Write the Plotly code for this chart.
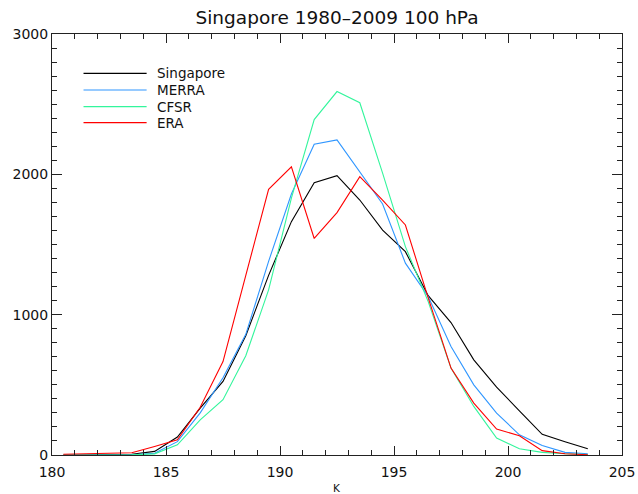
import plotly.graph_objects as go

# Data
temps = [180.5 + i for i in range(24)]
singapore = [0, 0, 2, 5, 26, 128, 334, 524, 850, 1280, 1663, 1940, 1990, 1817, 1603, 1449,
             1135, 944, 678, 484, 315, 147, 95, 45]
merra = [0, 0, 0, 2, 12, 95, 300, 550, 860, 1380, 1860, 2215, 2245, 2021, 1789, 1367,
         1129, 773, 500, 299, 144, 68, 19, 9]
cfsr = [0, 0, 0, 1, 8, 73, 251, 394, 707, 1177, 1830, 2390, 2590, 2510, 2009, 1485,
        1093, 619, 346, 121, 45, 19, 9, 3]
era = [5, 8, 10, 16, 61, 109, 340, 666, 1280, 1893, 2054, 1543, 1727, 1983, 1817, 1639,
       1120, 619, 370, 185, 137, 31, 9, 2]

series_names = ["Singapore", "MERRA", "CFSR", "ERA"]
series_values = [singapore, merra, cfsr, era]
series_colors = ["#000000", "#2f96ff", "#33f59c", "#ff0000"]

x_ticks = [180, 185, 190, 195, 200, 205]
y_ticks = [0, 1000, 2000, 3000]

FONT = "DejaVu Sans"
AX = "#222222"

W, H = 638, 494

fig = go.Figure()
for name, vals, col in zip(series_names, series_values, series_colors):
    fig.add_trace(go.Scatter(x=temps, y=vals, mode="lines", name=name,
                             line=dict(color=col, width=1.1), showlegend=False,
                             hoverinfo="skip"))

# Legend drawn manually (long line samples as in the reference)
ly = [0.9067, 0.867, 0.8275, 0.7893]
for name, col, yy in zip(series_names, series_colors, ly):
    fig.add_shape(type="line", xref="paper", yref="paper", x0=0.0553, x1=0.166,
                  y0=yy, y1=yy, line=dict(color=col, width=1.2))
    fig.add_annotation(xref="paper", yref="paper", x=0.181, y=yy, text=name,
                       showarrow=False, xanchor="left", yanchor="middle",
                       font=dict(family=FONT, size=13.5, color="#111111"))

fig.add_annotation(xref="paper", yref="paper", x=0.5, y=-0.078, text="K",
                   showarrow=False, xanchor="center", yanchor="middle",
                   font=dict(family=FONT, size=10.5, color="#111111"))

fig.update_layout(
    width=W, height=H, autosize=False,
    margin=dict(l=52, r=16, t=34, b=39, autoexpand=False),
    paper_bgcolor="white", plot_bgcolor="white",
    hovermode=False,
    title=dict(text="Singapore 1980\u20132009 100 hPa", x=0.5, xref="paper",
               y=1 - 18 / H, yref="container", xanchor="center", yanchor="middle",
               automargin=False,
               font=dict(family=FONT, size=18.5, color="#111111")),
    font=dict(family=FONT, size=14, color="#111111"),
)
fig.update_xaxes(range=[180, 205], tickvals=x_ticks, ticktext=[str(v) for v in x_ticks],
                 automargin=False,
                 showgrid=False, zeroline=False, showline=True, linecolor=AX, linewidth=1,
                 mirror="ticks", ticks="inside", ticklen=9, tickcolor=AX, tickwidth=1,
                 ticklabelstandoff=4,
                 minor=dict(ticks="inside", dtick=1, tick0=180, ticklen=5, tickcolor=AX, showgrid=False),
                 tickfont=dict(family=FONT, size=14))
fig.update_yaxes(range=[0, 3000], tickvals=y_ticks, ticktext=[str(v) for v in y_ticks],
                 automargin=False,
                 showgrid=False, zeroline=False, showline=True, linecolor=AX, linewidth=1,
                 mirror="ticks", ticks="inside", ticklen=10, tickcolor=AX, tickwidth=1,
                 minor=dict(ticks="inside", dtick=100, tick0=0, ticklen=5, tickcolor=AX, showgrid=False),
                 tickfont=dict(family=FONT, size=14))

fig.write_html("out.html", config={"responsive": False, "displayModeBar": False,
                                   "staticPlot": True},
               post_script="document.body.style.margin='0';document.body.style.overflow='hidden';")
